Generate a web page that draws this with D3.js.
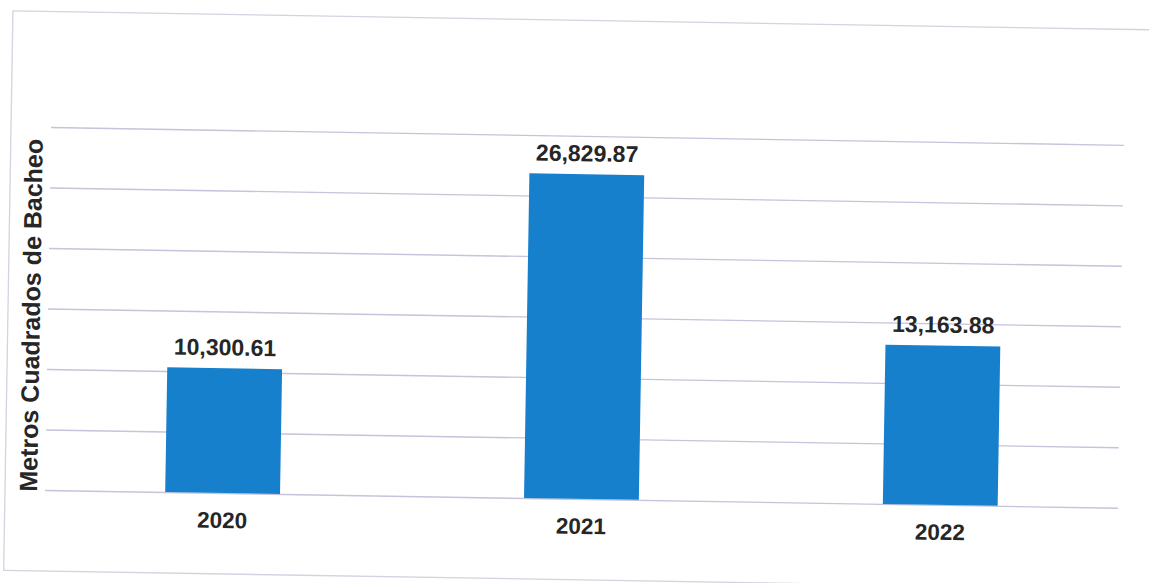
<!DOCTYPE html>
<html>
<head>
<meta charset="utf-8">
<script src="https://cdn.jsdelivr.net/npm/d3@7"></script>
<style>
  html, body { margin: 0; padding: 0; background: #ffffff; }
  svg { display: block; }
</style>
</head>
<body>
<svg id="chart" width="1149" height="583"></svg>
<script>
// ---- data ----
const categories = ["2020", "2021", "2022"];
const values = [10300.61, 26829.87, 13163.88];
const yTicks = [0, 5000, 10000, 15000, 20000, 25000, 30000];
const yTitle = "Metros Cuadrados de Bacheo";

const W = 1149, H = 583;
const svg = d3.select("#chart");
svg.append("rect").attr("width", W).attr("height", H).attr("fill", "#ffffff");

// scanned page is slightly rotated
const root = svg.append("g").attr("transform", "rotate(0.95, 45, 490)");

// outer chart frame
root.append("rect")
  .attr("x", 5).attr("y", 11.5)
  .attr("width", 1180).attr("height", 559.5)
  .attr("fill", "none").attr("stroke", "#d4d3df").attr("stroke-width", 1.3);

const plotLeft = 45, plotRight = 1118, plotTop = 127, plotBottom = 490;

const x = d3.scaleBand().domain(categories).range([plotLeft, plotRight])
  .paddingInner(0.68).paddingOuter(0.335);
const y = d3.scaleLinear().domain([0, 30000]).range([plotBottom, plotTop]);

// gridlines
const grid = root.append("g").attr("transform", `translate(${plotLeft},0)`)
  .call(d3.axisLeft(y).tickValues(yTicks).tickSize(-(plotRight - plotLeft)).tickFormat(""));
grid.select(".domain").remove();
grid.selectAll(".tick line").attr("stroke", "#c6c3da").attr("stroke-width", 1.4);

// bars
root.append("g").selectAll("rect").data(values).join("rect")
  .attr("x", (d, i) => x(categories[i]))
  .attr("y", d => y(d))
  .attr("width", x.bandwidth())
  .attr("height", d => y(0) - y(d))
  .attr("fill", "#1680cc");

// value labels
const fmt = d3.format(",.2f");
root.append("g").selectAll("text").data(values).join("text")
  .attr("x", (d, i) => x(categories[i]) + x.bandwidth() / 2)
  .attr("y", d => y(d) - 13)
  .attr("text-anchor", "middle")
  .attr("font-family", "Liberation Sans, Arial, sans-serif")
  .attr("font-weight", "bold")
  .attr("font-size", 23)
  .attr("fill", "#262626")
  .text(d => fmt(d));

// category labels
root.append("g").selectAll("text").data(categories).join("text")
  .attr("x", d => x(d) + x.bandwidth() / 2)
  .attr("y", plotBottom + 35)
  .attr("text-anchor", "middle")
  .attr("font-family", "Liberation Sans, Arial, sans-serif")
  .attr("font-weight", "bold")
  .attr("font-size", 22.5)
  .attr("fill", "#262626")
  .text(d => d);

// y-axis title
root.append("text")
  .attr("transform", `translate(37, ${(plotTop + plotBottom) / 2 + 7}) rotate(-90)`)
  .attr("text-anchor", "middle")
  .attr("font-family", "Liberation Sans, Arial, sans-serif")
  .attr("font-weight", "bold")
  .attr("font-size", 25)
  .attr("fill", "#262626")
  .text(yTitle);
</script>
</body>
</html>
